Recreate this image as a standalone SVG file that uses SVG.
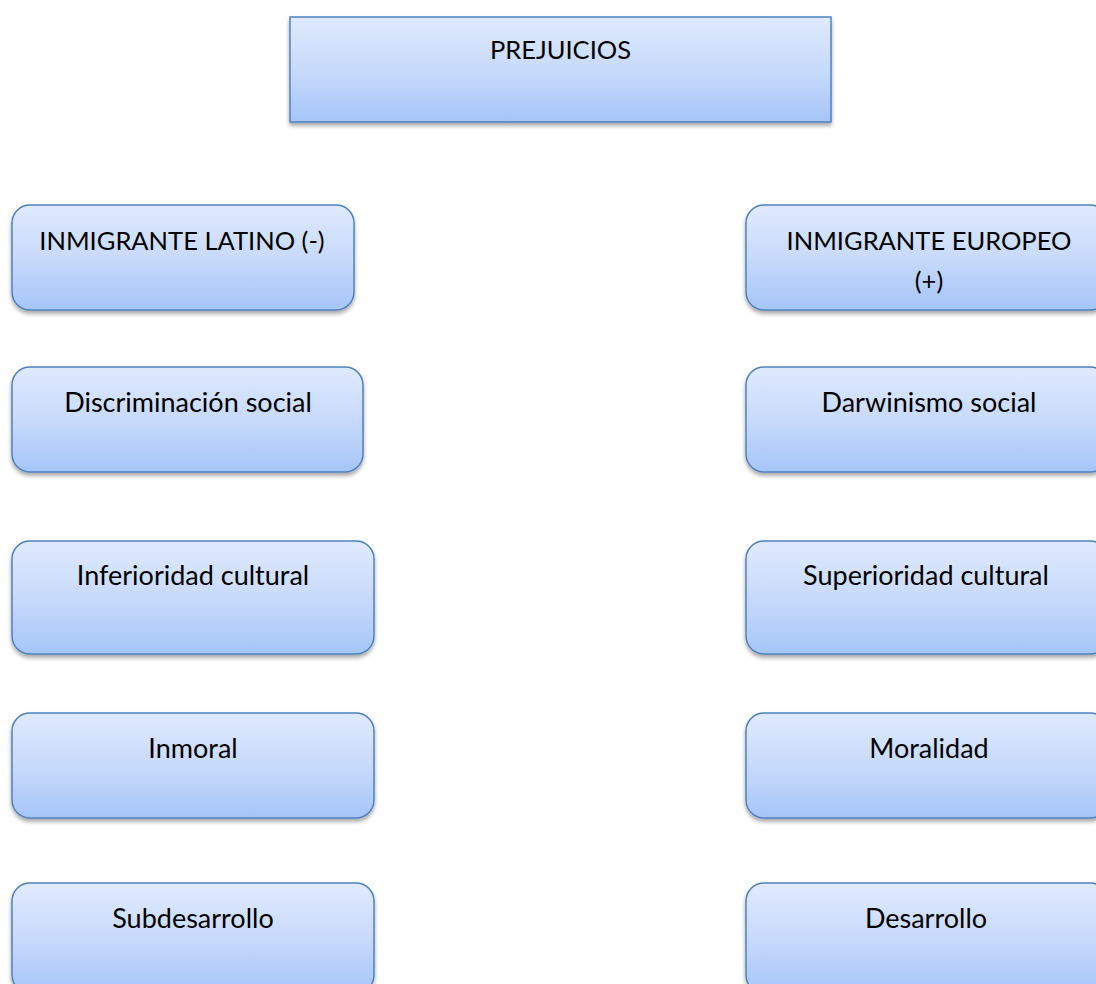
<svg xmlns="http://www.w3.org/2000/svg" width="1096" height="984" viewBox="0 0 1096 984">
<style>
.box{fill:url(#g);stroke:#4f81bd;stroke-width:1.5;filter:url(#sh)}
.t{font-family:Lato,"Liberation Sans",sans-serif;font-size:27px;fill:#000;text-anchor:middle}
.c{font-size:25.5px}
</style>
<defs>
<linearGradient id="g" x1="0" y1="0" x2="0" y2="1">
<stop offset="0" stop-color="#dfeafd"/>
<stop offset="0.5" stop-color="#c8dafb"/>
<stop offset="1" stop-color="#a5c5f8"/>
</linearGradient>
<filter id="sh" x="-10%" y="-10%" width="120%" height="130%">
<feGaussianBlur in="SourceAlpha" stdDeviation="2"/>
<feOffset dx="0" dy="3" result="b"/>
<feComponentTransfer><feFuncA type="linear" slope="0.35"/></feComponentTransfer>
<feMerge><feMergeNode/><feMergeNode in="SourceGraphic"/></feMerge>
</filter>
</defs>
<g id="connectors"/>
<g id="prejuicios"><rect class="box" x="290" y="17" width="541" height="105"/><text class="t c" x="560.5" y="59">PREJUICIOS</text></g>
<g id="latino"><rect class="box" x="12" y="205" width="342" height="105" rx="18"/><text class="t c" x="182" y="250">INMIGRANTE LATINO (-)</text></g>
<g id="europeo"><rect class="box" x="746" y="205" width="362" height="105" rx="18"/><text class="t c" x="929" y="250">INMIGRANTE EUROPEO</text><text class="t c" x="929" y="290">(+)</text></g>
<g id="discriminacion"><rect class="box" x="12" y="367" width="351" height="105" rx="18"/><text class="t" x="188" y="412">Discriminación social</text></g>
<g id="darwinismo"><rect class="box" x="746" y="367" width="362" height="105" rx="18"/><text class="t" x="929" y="412">Darwinismo social</text></g>
<g id="inferioridad"><rect class="box" x="12" y="541" width="362" height="113" rx="18"/><text class="t" x="193" y="585">Inferioridad cultural</text></g>
<g id="superioridad"><rect class="box" x="746" y="541" width="362" height="113" rx="18"/><text class="t" x="926" y="585">Superioridad cultural</text></g>
<g id="inmoral"><rect class="box" x="12" y="713" width="362" height="105" rx="18"/><text class="t" x="193" y="758">Inmoral</text></g>
<g id="moralidad"><rect class="box" x="746" y="713" width="362" height="105" rx="18"/><text class="t" x="929" y="758">Moralidad</text></g>
<g id="subdesarrollo"><rect class="box" x="12" y="883" width="362" height="110" rx="18"/><text class="t" x="193" y="928">Subdesarrollo</text></g>
<g id="desarrollo"><rect class="box" x="746" y="883" width="362" height="110" rx="18"/><text class="t" x="926" y="928">Desarrollo</text></g>
</svg>
